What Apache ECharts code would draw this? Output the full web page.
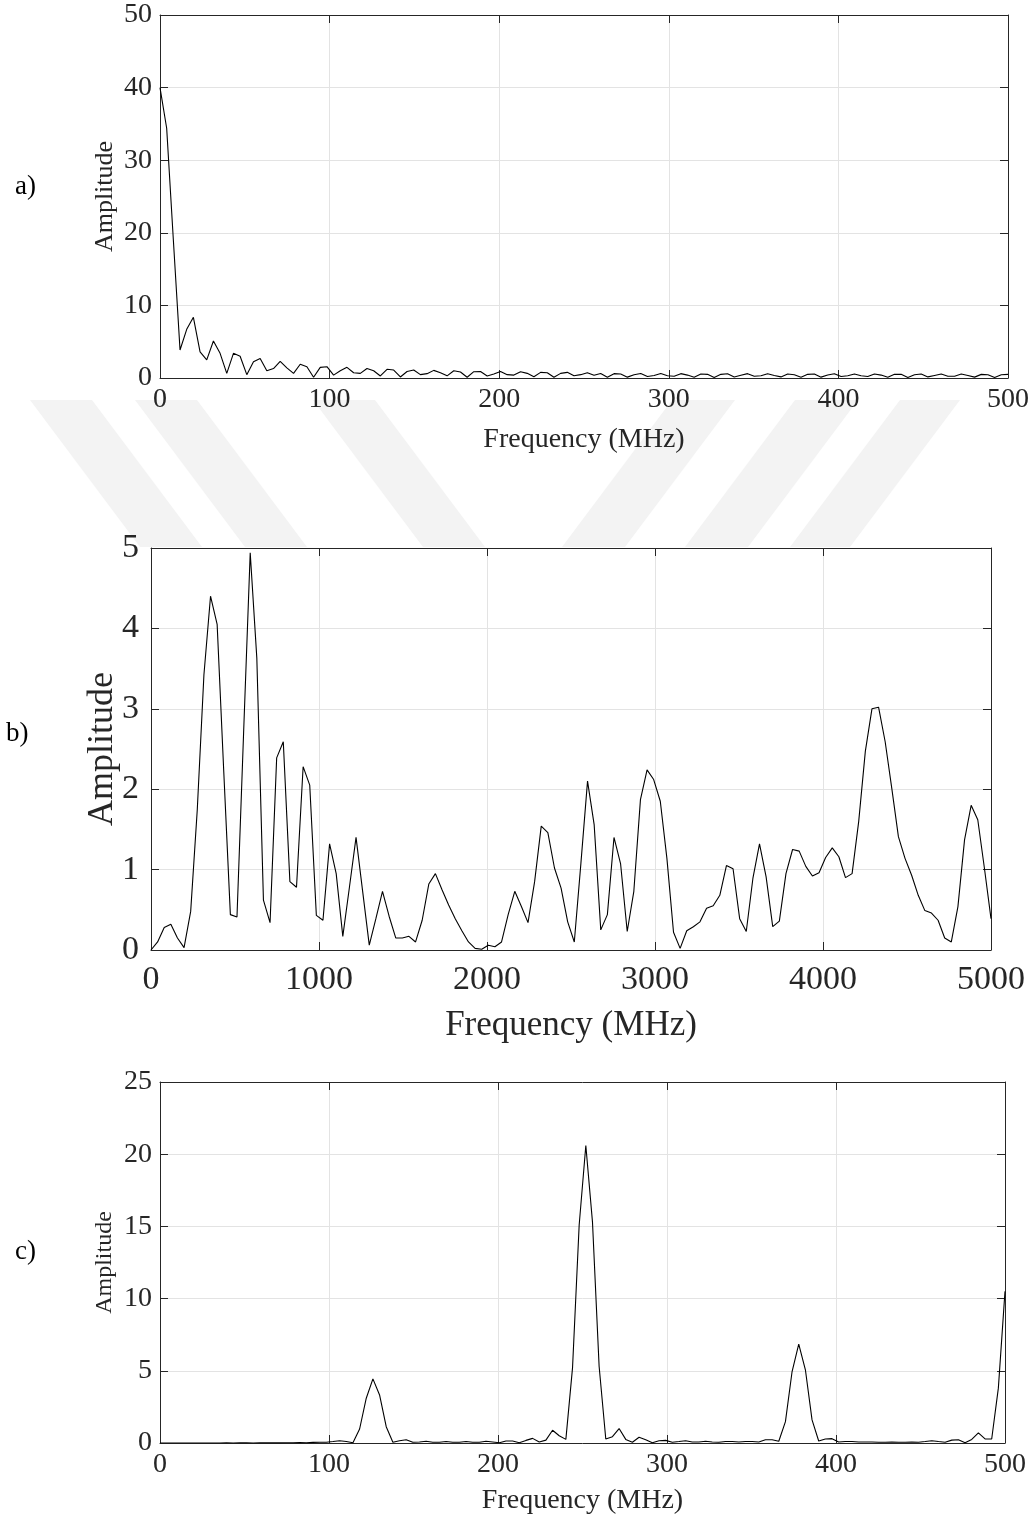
<!DOCTYPE html>
<html>
<head>
<meta charset="utf-8">
<script src="https://cdn.jsdelivr.net/npm/echarts@6/dist/echarts.min.js"></script>
<style>
html,body{margin:0;padding:0;background:#fff;}
#chart{width:1036px;height:1521px;}
</style>
</head>
<body>
<div id="chart"></div>
<script>
// ---------------- data ----------------
// Each spectrum has 128 samples evenly spaced from 0 to the axis maximum.
const panelLabels = ['a)', 'b)', 'c)'];
const xTitle = 'Frequency (MHz)';
const yTitle = 'Amplitude';

// a) 0 - 500 MHz
const freqMaxA = 500;
const ampA = [
  40, 34.4, 19, 3.86, 6.7, 8.36, 3.6, 2.5, 5.1, 3.4,
  0.64, 3.4, 3.0, 0.46, 2.25, 2.7, 1.0, 1.3, 2.3, 1.4,
  0.64, 1.9, 1.56, 0.1, 1.47, 1.56, 0.4, 1.0, 1.47, 0.73,
  0.64, 1.3, 1.0, 0.28, 1.2, 1.1, 0.14, 0.9, 1.1, 0.46,
  0.6, 1.05, 0.73, 0.3, 1.0, 0.83, 0.1, 0.87, 0.9, 0.28,
  0.55, 0.9, 0.46, 0.4, 0.87, 0.64, 0.18, 0.78, 0.73, 0.1,
  0.64, 0.78, 0.3, 0.46, 0.73, 0.37, 0.62, 0.1, 0.6, 0.55,
  0.12, 0.45, 0.62, 0.2, 0.35, 0.62, 0.3, 0.25, 0.6, 0.4,
  0.1, 0.55, 0.5, 0.08, 0.5, 0.58, 0.15, 0.38, 0.6, 0.25,
  0.3, 0.58, 0.35, 0.15, 0.55, 0.45, 0.1, 0.5, 0.55, 0.12,
  0.42, 0.58, 0.2, 0.32, 0.56, 0.3, 0.2, 0.55, 0.4, 0.1,
  0.5, 0.5, 0.08, 0.45, 0.55, 0.15, 0.35, 0.55, 0.25, 0.25,
  0.55, 0.35, 0.12, 0.5, 0.45, 0.08, 0.45, 0.5
];

// b) 0 - 5000 MHz
const freqMaxB = 5000;
const ampB = [
  0, 0.1, 0.28, 0.32, 0.15, 0.03, 0.48, 1.75, 3.42, 4.4,
  4.05, 2.22, 0.44, 0.41, 2.7, 4.94, 3.63, 0.62, 0.34, 2.39,
  2.59, 0.85, 0.78, 2.28, 2.05, 0.43, 0.37, 1.32, 0.95, 0.17,
  0.78, 1.4, 0.73, 0.06, 0.39, 0.73, 0.42, 0.15, 0.15, 0.17,
  0.1, 0.37, 0.82, 0.95, 0.75, 0.56, 0.39, 0.24, 0.1, 0.02,
  0.01, 0.06, 0.04, 0.1, 0.44, 0.73, 0.54, 0.34, 0.85, 1.54,
  1.46, 1.02, 0.77, 0.35, 0.1, 1.08, 2.1, 1.56, 0.25, 0.44,
  1.4, 1.07, 0.23, 0.73, 1.87, 2.24, 2.12, 1.85, 1.14, 0.22,
  0.02, 0.24, 0.29, 0.35, 0.52, 0.55, 0.68, 1.05, 1.01, 0.39,
  0.23, 0.89, 1.32, 0.91, 0.29, 0.36, 0.95, 1.25, 1.23, 1.04,
  0.92, 0.96, 1.15, 1.27, 1.16, 0.9, 0.95, 1.6, 2.47, 3.0,
  3.02, 2.59, 2.01, 1.41, 1.14, 0.93, 0.68, 0.49, 0.46, 0.37,
  0.15, 0.1, 0.54, 1.37, 1.8, 1.62, 1.02, 0.39
];

// c) 0 - 500 MHz
const freqMaxC = 500;
const ampC = [
  0, 0, 0, 0, 0, 0, 0, 0, 0, 0,
  0.01, 0, 0.01, 0.01, 0, 0.01, 0.01, 0.02, 0.01, 0.02,
  0.02, 0.03, 0.02, 0.04, 0.05, 0.05, 0.1, 0.16, 0.1, 0.02,
  0.97, 3.1, 4.44, 3.33, 1.13, 0.05, 0.16, 0.23, 0.05, 0.07,
  0.12, 0.05, 0.05, 0.1, 0.05, 0.05, 0.1, 0.05, 0.05, 0.12,
  0.07, 0.02, 0.14, 0.14, 0.02, 0.18, 0.32, 0.07, 0.2, 0.88,
  0.5, 0.25, 5.2, 15.1, 20.6, 15.3, 5.3, 0.28, 0.44, 1.0,
  0.25, 0.05, 0.4, 0.23, 0.02, 0.16, 0.18, 0.05, 0.1, 0.16,
  0.07, 0.07, 0.12, 0.07, 0.05, 0.1, 0.1, 0.07, 0.1, 0.1,
  0.07, 0.23, 0.23, 0.12, 1.48, 4.95, 6.85, 5.07, 1.6, 0.14,
  0.28, 0.3, 0.07, 0.1, 0.1, 0.07, 0.07, 0.07, 0.05, 0.05,
  0.07, 0.05, 0.05, 0.07, 0.05, 0.1, 0.16, 0.1, 0.05, 0.2,
  0.23, 0.02, 0.25, 0.7, 0.28, 0.28, 3.8, 10.5
];

// axis ranges / ticks
const xTicksA = {min: 0, max: 500, interval: 100};
const yTicksA = {min: 0, max: 50, interval: 10};
const xTicksB = {min: 0, max: 5000, interval: 1000};
const yTicksB = {min: 0, max: 5, interval: 1};
const xTicksC = {min: 0, max: 500, interval: 100};
const yTicksC = {min: 0, max: 25, interval: 5};

// ---------------- chart ----------------
function toPairs(vals, fmax) {
  const n = vals.length;
  return vals.map((v, i) => [i * fmax / (n - 1), v]);
}

const FONT = '"Liberation Serif", "Times New Roman", serif';
const AXIS_COLOR = '#262626';
const GRID_COLOR = '#e3e3e3';
const plain = v => String(v);

const panels = [
  {grid: {left: 160, top: 15, width: 848, height: 363}, x: xTicksA, y: yTicksA,
   data: toPairs(ampA, freqMaxA), tick: 28, xName: 28, yName: 26, xNameGap: 48, yNameGap: 42, xMargin: 8, yMargin: 8},
  {grid: {left: 151, top: 548, width: 840, height: 402}, x: xTicksB, y: yTicksB,
   data: toPairs(ampB, freqMaxB), tick: 34, xName: 35, yName: 36, xNameGap: 58, yNameGap: 30, xMargin: 13, yMargin: 12},
  {grid: {left: 160, top: 1082, width: 845, height: 361}, x: xTicksC, y: yTicksC,
   data: toPairs(ampC, freqMaxC), tick: 28, xName: 28, yName: 24, xNameGap: 44, yNameGap: 43, xMargin: 8, yMargin: 8}
];

const grid = [], xAxis = [], yAxis = [], series = [];
panels.forEach((p, k) => {
  grid.push(Object.assign({containLabel: false, z: 2}, p.grid));
  const tickStyle = {show: true, inside: true, length: 8, lineStyle: {color: AXIS_COLOR, width: 1}};
  const lineStyle = {show: true, onZero: false, lineStyle: {color: AXIS_COLOR, width: 1}};
  xAxis.push({
    type: 'value', gridIndex: k, position: 'bottom',
    min: p.x.min, max: p.x.max, interval: p.x.interval,
    axisLine: lineStyle, axisTick: tickStyle,
    axisLabel: {fontFamily: FONT, fontSize: p.tick, color: AXIS_COLOR, margin: p.xMargin, formatter: plain},
    splitLine: {show: true, lineStyle: {color: GRID_COLOR, width: 1}},
    name: xTitle, nameLocation: 'middle', nameGap: p.xNameGap, nameMoveOverlap: false,
    nameTextStyle: {fontFamily: FONT, fontSize: p.xName, color: AXIS_COLOR}
  });
  xAxis.push({
    type: 'value', gridIndex: k, position: 'top',
    min: p.x.min, max: p.x.max, interval: p.x.interval,
    axisLine: lineStyle, axisTick: tickStyle,
    axisLabel: {show: false}, splitLine: {show: false}
  });
  yAxis.push({
    type: 'value', gridIndex: k, position: 'left',
    min: p.y.min, max: p.y.max, interval: p.y.interval,
    axisLine: lineStyle, axisTick: tickStyle,
    axisLabel: {fontFamily: FONT, fontSize: p.tick, color: AXIS_COLOR, margin: p.yMargin, formatter: plain},
    splitLine: {show: true, lineStyle: {color: GRID_COLOR, width: 1}},
    name: yTitle, nameLocation: 'middle', nameGap: p.yNameGap, nameRotate: 90, nameMoveOverlap: false,
    nameTextStyle: {fontFamily: FONT, fontSize: p.yName, color: AXIS_COLOR}
  });
  yAxis.push({
    type: 'value', gridIndex: k, position: 'right',
    min: p.y.min, max: p.y.max, interval: p.y.interval,
    axisLine: lineStyle, axisTick: tickStyle,
    axisLabel: {show: false}, splitLine: {show: false}
  });
  series.push({
    type: 'line', xAxisIndex: 2 * k, yAxisIndex: 2 * k,
    data: p.data, showSymbol: false, symbol: 'none',
    lineStyle: {color: '#000', width: 1.1}, clip: true, animation: false, z: 5
  });
});

// faint page watermark between panels a and b (decorative background)
const WM = '#f3f3f3';
const wmBands = [
  [[30, 400], [92, 400], [202, 547], [140, 547]],
  [[135, 400], [197, 400], [307, 547], [245, 547]],
  [[313, 400], [375, 400], [485, 547], [423, 547]],
  [[672, 400], [735, 400], [625, 547], [562, 547]],
  [[795, 400], [858, 400], [748, 547], [685, 547]],
  [[900, 400], [960, 400], [850, 547], [790, 547]]
];
const graphic = wmBands.map(pts => ({
  type: 'polygon', z: -10, silent: true,
  shape: {points: pts}, style: {fill: WM}
}));

const sideLabelPos = [[15, 188], [6, 735], [15, 1253]];
panelLabels.forEach((t, k) => graphic.push({
  type: 'text', left: sideLabelPos[k][0], top: sideLabelPos[k][1] - 15,
  style: {text: t, font: '27px ' + FONT, fill: '#000'}
}));

const chart = echarts.init(document.getElementById('chart'), null, {renderer: 'canvas'});
chart.setOption({
  animation: false,
  backgroundColor: '#fff',
  grid, xAxis, yAxis, series, graphic
});
</script>
</body>
</html>
